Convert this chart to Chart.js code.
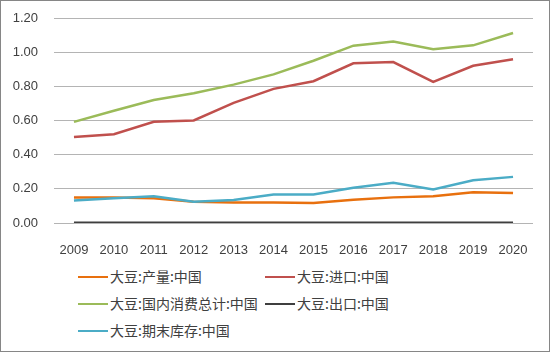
<!DOCTYPE html>
<html>
<head>
<meta charset="utf-8">
<script src="https://cdn.jsdelivr.net/npm/chart.js@4.4.1/dist/chart.umd.min.js"></script>
<style>
  html, body { margin: 0; padding: 0; background: #fff; }
  #frame { position: relative; width: 550px; height: 352px; box-sizing: border-box; border: 1px solid #868686; overflow: hidden; }
  #chart { position: absolute; left: -1px; top: -1px; }
  .lg { position: absolute; font-family: "Noto Sans CJK SC", sans-serif; font-size: 14px; color: #404040; white-space: nowrap; line-height: 16px; }
  .lg i { display: inline-block; width: 30px; height: 2.5px; vertical-align: middle; margin-right: 2px; position: relative; top: -1px; }
</style>
</head>
<body>
<div id="frame">
  <canvas id="chart" width="550" height="260"></canvas>
  <div id="legend"></div>
</div>
<script>
const years = ['2009','2010','2011','2012','2013','2014','2015','2016','2017','2018','2019','2020'];
const yTicks = [0, 0.2, 0.4, 0.6, 0.8, 1.0, 1.2];

const production = [0.150, 0.150, 0.145, 0.125, 0.120, 0.120, 0.117, 0.136, 0.150, 0.157, 0.180, 0.175];
const imports    = [0.503, 0.520, 0.592, 0.600, 0.703, 0.785, 0.830, 0.935, 0.942, 0.826, 0.920, 0.958];
const consumption= [0.592, 0.657, 0.720, 0.760, 0.810, 0.870, 0.950, 1.038, 1.062, 1.017, 1.040, 1.112];
const exportsCn  = [0.001, 0.001, 0.001, 0.001, 0.001, 0.001, 0.001, 0.001, 0.001, 0.001, 0.001, 0.001];
const endStock   = [0.132, 0.145, 0.157, 0.125, 0.135, 0.167, 0.167, 0.206, 0.235, 0.196, 0.250, 0.270];

const seriesNames = ['大豆:产量:中国', '大豆:进口:中国', '大豆:国内消费总计:中国', '大豆:出口:中国', '大豆:期末库存:中国'];
const seriesColors = ['#E8700E', '#C0504D', '#9BBB59', '#3F3F3F', '#4BACC6'];
const seriesData = [production, imports, consumption, exportsCn, endStock];

// draw order: back series first so orange sits above blue like the original
const order = [4, 3, 1, 2, 0];
const datasets = order.map(i => ({
  label: seriesNames[i],
  data: seriesData[i],
  borderColor: seriesColors[i],
  backgroundColor: seriesColors[i],
  borderWidth: 2.5,
  pointRadius: 0,
  tension: 0,
  fill: false,
}));

new Chart(document.getElementById('chart').getContext('2d'), {
  type: 'line',
  data: { labels: years, datasets },
  options: {
    responsive: false,
    animation: false,
    layout: { padding: { top: 18, right: 17, left: 0, bottom: 0 } },
    plugins: { legend: { display: false }, tooltip: { enabled: false } },
    scales: {
      x: {
        offset: true,
        grid: { display: false },
        border: { display: false },
        ticks: { color: '#404040', font: { family: 'Liberation Sans', size: 13 }, padding: 12, maxRotation: 0, autoSkip: false },
        afterFit: s => { s.height = 37; }
      },
      y: {
        min: 0,
        max: 1.2,
        afterBuildTicks: s => { s.ticks = yTicks.map(v => ({ value: v })); },
        grid: { color: '#B4B4B4', lineWidth: 1, drawTicks: false },
        border: { display: false },
        ticks: { color: '#404040', font: { family: 'Liberation Sans', size: 13 }, padding: 16, callback: v => Number(v).toFixed(2) },
        // fixed axis width, and drop the extra top/bottom room the tick padding adds
        afterFit: s => { s.width = 54; s.paddingTop = 0; s.paddingBottom = 0; }
      }
    }
  }
});

// two-column legend like the original
const legendPos = [[78, 268], [265, 268], [78, 295], [265, 295], [78, 322]];
const legend = document.getElementById('legend');
seriesNames.forEach((name, i) => {
  const d = document.createElement('div');
  d.className = 'lg';
  d.style.left = (legendPos[i][0] - 1) + 'px';
  d.style.top = (legendPos[i][1] - 1) + 'px';
  d.innerHTML = '<i style="background:' + seriesColors[i] + '"></i>' + name;
  legend.appendChild(d);
});
</script>
</body>
</html>
